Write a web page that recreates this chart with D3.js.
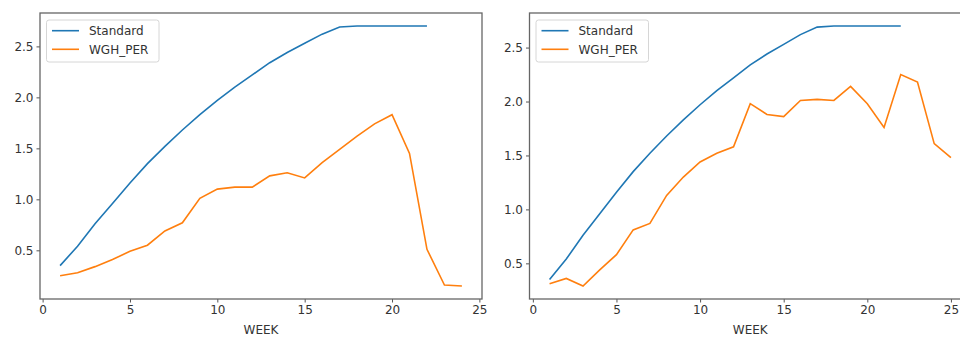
<!DOCTYPE html>
<html><head><meta charset="utf-8">
<script src="https://cdn.jsdelivr.net/npm/d3@7"></script>
<style>body{margin:0;background:#fff}svg{display:block}text{font-family:"DejaVu Sans",sans-serif}</style>
</head><body>
<svg id="c" width="960" height="337"></svg>
<script>
const weeksStd = d3.range(1, 23);
const standard = [0.35,0.54,0.76,0.96,1.16,1.35,1.52,1.68,1.83,1.97,2.10,2.22,2.34,2.44,2.53,2.62,2.69,2.70,2.70,2.70,2.70,2.70];
const weeksA = d3.range(1, 25);
const wghA = [0.25,0.28,0.34,0.41,0.49,0.55,0.69,0.77,1.01,1.10,1.12,1.12,1.23,1.26,1.21,1.36,1.49,1.62,1.74,1.83,1.45,0.51,0.16,0.15];
const weeksB = d3.range(1, 26);
const wghB = [0.31,0.36,0.29,0.44,0.58,0.81,0.87,1.13,1.30,1.44,1.52,1.58,1.98,1.88,1.86,2.01,2.02,2.01,2.14,1.98,1.76,2.25,2.18,1.61,1.48];
const xTicks = [0,5,10,15,20,25];
const yTicks = [0.5,1.0,1.5,2.0,2.5];
const seriesNames = ["Standard","WGH_PER"];
const colors = ["#1f77b4","#ff7f0e"];

const svg = d3.select("#c");
const panels = [
  {x0:40, x1:482, wk:weeksA, wgh:wghA},
  {x0:529.5, x1:971, wk:weeksB, wgh:wghB}
];
const plotTop = 13, plotBottom = 299;

panels.forEach(p => {
  const allX = p.wk.concat(weeksStd);
  const allY = p.wgh.concat(standard);
  const [xmn, xmx] = d3.extent(allX), [ymn, ymx] = d3.extent(allY);
  const xm = (xmx - xmn) * 0.05, ym = (ymx - ymn) * 0.05;
  const x = d3.scaleLinear().domain([xmn - xm, xmx + xm]).range([p.x0, p.x1]);
  const y = d3.scaleLinear().domain([ymn - ym, ymx + ym]).range([plotBottom, plotTop]);
  const g = svg.append("g");
  const line = d3.line().x(d => x(d[0])).y(d => y(d[1]));
  g.append("path").datum(weeksStd.map((w,i)=>[w,standard[i]])).attr("d", line)
    .attr("fill","none").attr("stroke",colors[0]).attr("stroke-width",1.6);
  g.append("path").datum(p.wk.map((w,i)=>[w,p.wgh[i]])).attr("d", line)
    .attr("fill","none").attr("stroke",colors[1]).attr("stroke-width",1.6);
  const xa = g.append("g").attr("transform",`translate(0,${plotBottom})`)
    .call(d3.axisBottom(x).tickValues(xTicks).tickFormat(d3.format("d")).tickSize(3.5).tickPadding(3));
  const ya = g.append("g").attr("transform",`translate(${p.x0},0)`)
    .call(d3.axisLeft(y).tickValues(yTicks).tickFormat(d3.format(".1f")).tickSize(3.5).tickPadding(3));
  [xa, ya].forEach(a => {
    a.select(".domain").remove();
    a.selectAll(".tick line").attr("stroke","#555").attr("stroke-width",1);
    a.selectAll(".tick text").attr("fill","#333").style("font-size","12px");
  });
  g.append("rect").attr("x",p.x0).attr("y",plotTop).attr("width",p.x1-p.x0).attr("height",plotBottom-plotTop)
    .attr("fill","none").attr("stroke","#666").attr("stroke-width",1.3);
  g.append("text").attr("x",(p.x0+p.x1)/2).attr("y",334).attr("text-anchor","middle")
    .attr("fill","#333").style("font-size","12px").text("WEEK");
  const lg = g.append("g").attr("transform",`translate(${p.x0+6.5},20)`);
  lg.append("rect").attr("width",112.5).attr("height",42).attr("rx",2.5)
    .attr("fill","#fff").attr("fill-opacity",0.8).attr("stroke","#d6d6d6").attr("stroke-width",1);
  seriesNames.forEach((n,i) => {
    const yy = 10.7 + i*18.6;
    lg.append("line").attr("x1",5.5).attr("x2",32.5).attr("y1",yy).attr("y2",yy)
      .attr("stroke",colors[i]).attr("stroke-width",1.6);
    lg.append("text").attr("x",42.5).attr("y",yy+4.3).attr("fill","#333")
      .style("font-size","12px").text(n);
  });
});
</script>
</body></html>
